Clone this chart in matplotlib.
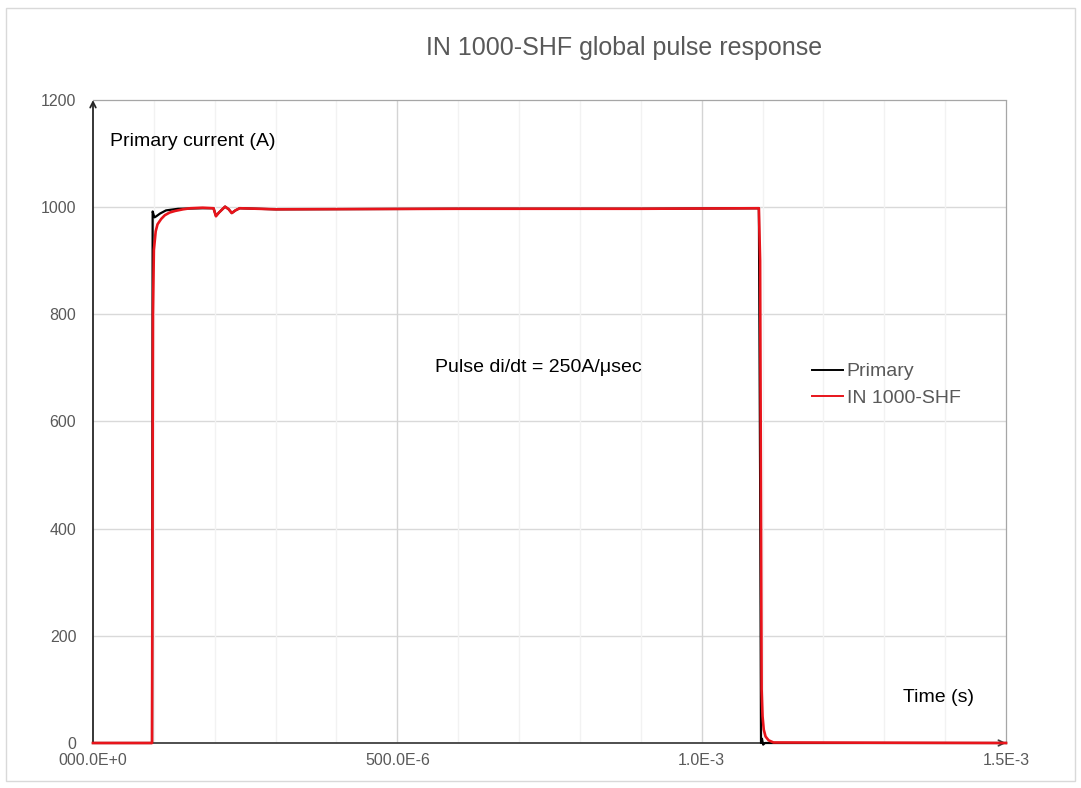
"""IN 1000-SHF global pulse response figure."""

from typing import List
import matplotlib.pyplot as plt
from matplotlib.patches import Rectangle
from matplotlib.lines import Line2D

plt.rcParams['font.family'] = ['Liberation Sans', 'DejaVu Sans']

# Primary current (black), time in microseconds, current in A
PRIM_T: List[float] = [0, 97, 98, 99.5, 101, 104, 110, 120, 140, 180, 198, 202, 207,
                       217, 223, 228, 234, 241, 300, 600, 900, 1094, 1096, 1097.5,
                       1099, 1101, 1104, 1500]
PRIM_I: List[float] = [0, 0, 992, 986, 981, 983, 988, 994, 997, 998, 998, 984, 990,
                       1001, 996, 989, 994, 998, 996, 997, 997, 998, 500, 0,
                       8, -3, 0, 0]

# IN 1000-SHF output (red)
SHF_T: List[float] = [0, 97, 98.5, 100, 103, 106, 112, 118, 126, 135, 148, 160, 180,
                      198, 202, 207, 217, 223, 228, 234, 241, 300, 600, 900, 1094,
                      1096, 1098.5, 1100, 1102, 1105, 1110, 1118, 1500]
SHF_I: List[float] = [0, 0, 800, 920, 955, 968, 978, 985, 990, 993, 996, 998, 999,
                      998, 983, 990, 1001, 996, 989, 994, 998, 996, 997, 997, 998,
                      900, 100, 50, 25, 12, 5, 1, 0]

X_TICKS: List[float] = [0, 500, 1000, 1500]
X_LABELS: List[str] = ['000.0E+0', '500.0E-6', '1.0E-3', '1.5E-3']
Y_TICKS: List[int] = [0, 200, 400, 600, 800, 1000, 1200]

W, H = 1081, 788
GRAY_TXT = '#595959'

fig = plt.figure(figsize=(W / 100, H / 100), dpi=100)
ax = fig.add_axes([93 / W, 1 - 743 / H, (1006 - 93) / W, (743 - 100) / H])

# Outer chart border
fig.patches.append(Rectangle((6 / W, 1 - 781 / H), (1075 - 6) / W, (781 - 8) / H,
                             transform=fig.transFigure, fill=False,
                             edgecolor='#d9d9d9', linewidth=1))

ax.set_xlim(0, 1500)
ax.set_ylim(0, 1200)

# Grid
for yv in Y_TICKS[1:-1]:
    ax.axhline(yv, color='#d9d9d9', linewidth=1, zorder=0)
for xv in range(100, 1500, 100):
    major = xv % 500 == 0
    ax.axvline(xv, color='#d4d4d4' if major else '#f2f2f2', linewidth=1, zorder=0)

# Data
ax.plot(PRIM_T, PRIM_I, color='black', linewidth=1.6, zorder=3, clip_on=False)
ax.plot(SHF_T, SHF_I, color='#e8141b', linewidth=1.9, zorder=4, clip_on=False)

# Spines
ax.spines['left'].set_visible(False)
ax.spines['bottom'].set_visible(False)
for side in ('top', 'right'):
    ax.spines[side].set_color('#a6a6a6')
    ax.spines[side].set_linestyle((0, (1.5, 1)))
    ax.spines[side].set_linewidth(0.9)
ax.annotate('', xy=(0, 1.0), xytext=(0, 0), xycoords='axes fraction',
            arrowprops=dict(arrowstyle='->', color='#262626', lw=1.3,
                            shrinkA=0, shrinkB=0), zorder=2)
ax.annotate('', xy=(1.0, 0), xytext=(0, 0), xycoords='axes fraction',
            arrowprops=dict(arrowstyle='->', color='#404040', lw=1.3,
                            shrinkA=0, shrinkB=0), zorder=2)

# Ticks
ax.set_xticks(X_TICKS)
ax.set_xticklabels(X_LABELS)
ax.set_yticks(Y_TICKS)
ax.tick_params(axis='both', length=0, labelsize=11.5, labelcolor=GRAY_TXT)
ax.tick_params(axis='x', pad=7)
ax.tick_params(axis='y', pad=12)

# Texts
fig.text(624 / W, 1 - 48 / H, 'IN 1000-SHF global pulse response', ha='center',
         va='center', fontsize=18, color=GRAY_TXT)
fig.text(110 / W, 1 - 142 / H, 'Primary current (A)', ha='left', va='center',
         fontsize=14, color='black')
fig.text(435 / W, 1 - 367 / H, 'Pulse di/dt = 250A/μsec', ha='left', va='center',
         fontsize=14, color='black')
fig.text(974 / W, 1 - 698 / H, 'Time (s)', ha='right', va='center',
         fontsize=14, color='black')

# Legend
handles = [Line2D([], [], color='black', linewidth=1.4),
           Line2D([], [], color='#e8141b', linewidth=1.4)]
leg = fig.legend(handles, ['Primary', 'IN 1000-SHF'], loc='upper left',
                 bbox_to_anchor=(802 / W, 1 - 353 / H), frameon=False, fontsize=14,
                 handlelength=1.6, handletextpad=0.2, labelspacing=0.45, borderpad=0)
for t in leg.get_texts():
    t.set_color(GRAY_TXT)

fig.savefig('out.png', dpi=100)
